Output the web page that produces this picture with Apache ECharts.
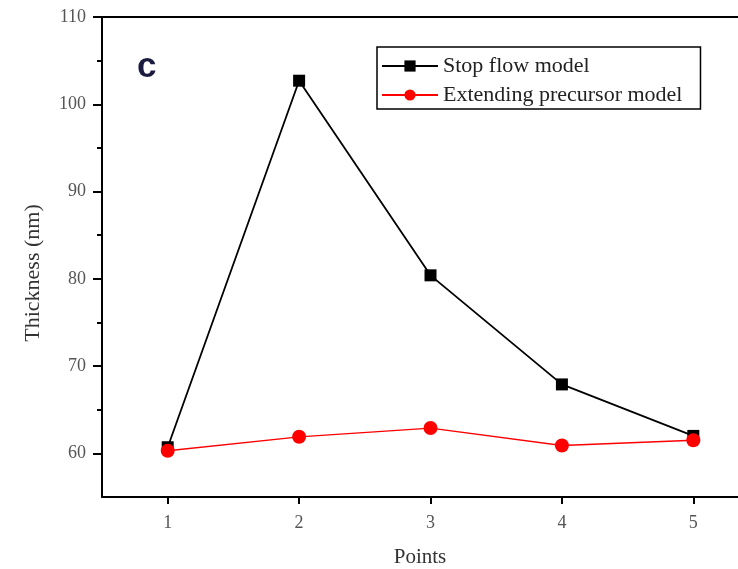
<!DOCTYPE html>
<html>
<head>
<meta charset="utf-8">
<script src="https://cdn.jsdelivr.net/npm/echarts@6/dist/echarts.min.js"></script>
<style>html,body{margin:0;padding:0;background:#fff;}#c{width:738px;height:569px;}</style>
</head>
<body>
<div id="c"></div>
<script>
var points = [1, 2, 3, 4, 5];
var stopFlow = [60.7, 102.7, 80.4, 67.9, 62.0];
var extending = [60.3, 61.9, 62.9, 60.9, 61.5];
var yTicks = [60, 70, 80, 90, 100, 110];
var seriesNames = ['Stop flow model', 'Extending precursor model'];

function pairs(xs, ys) { return xs.map(function (x, i) { return [x, ys[i]]; }); }

var chart = echarts.init(document.getElementById('c'));
var serif = 'Liberation Serif';
chart.setOption({
  animation: false,
  grid: { left: 102, top: 17, right: 0, bottom: 72, containLabel: false, outerBoundsMode: 'none' },
  graphic: [{
    type: 'text', x: 137, y: 85,
    style: { text: 'c', font: 'bold 35px Liberation Sans', fill: '#1b1b40', verticalAlign: 'bottom' }
  }, {
    type: 'text', x: 33, y: 273, rotation: Math.PI / 2,
    style: { text: 'Thickness (nm)', font: '22px Liberation Serif', fill: '#333', align: 'center', verticalAlign: 'middle' }
  }],
  legend: {
    orient: 'vertical', left: 377, top: 47,
    borderColor: '#000', borderWidth: 1.5, borderRadius: 0,
    padding: [8, 18, 3, 4], itemGap: 7, itemWidth: 56, itemHeight: 14,
    textStyle: { fontFamily: serif, fontSize: 22, color: '#222' },
    data: seriesNames
  },
  xAxis: [{
    type: 'value', min: 0.5, max: 5.34, position: 'bottom',
    name: 'Points', nameLocation: 'middle', nameGap: 50,
    nameTextStyle: { fontFamily: serif, fontSize: 21, color: '#333' },
    axisLine: { show: true, lineStyle: { color: '#000', width: 2 } },
    axisTick: { show: true, inside: false, length: 7, lineStyle: { color: '#000', width: 2 }, customValues: points },
    axisLabel: { fontFamily: serif, fontSize: 18, color: '#555', margin: 17, customValues: points },
    splitLine: { show: false }
  }, {
    type: 'value', min: 0.5, max: 5.34, position: 'top',
    axisLine: { show: true, onZero: false, lineStyle: { color: '#000', width: 2 } },
    axisTick: { show: false }, axisLabel: { show: false }, splitLine: { show: false }
  }],
  yAxis: {
    type: 'value', min: 55, max: 110,
    axisLine: { show: true, onZero: false, lineStyle: { color: '#000', width: 2 } },
    axisTick: { show: true, length: 9, lineStyle: { color: '#000', width: 2 }, customValues: yTicks },
    minorTick: { show: true, splitNumber: 2, length: 5, lineStyle: { color: '#000', width: 2 } },
    axisLabel: { fontFamily: serif, fontSize: 18, color: '#555', margin: 16, customValues: yTicks },
    splitLine: { show: false }
  },
  series: [{
    name: seriesNames[0], type: 'line', data: pairs(points, stopFlow),
    symbol: 'rect', symbolSize: 12,
    lineStyle: { color: '#000', width: 1.8 },
    itemStyle: { color: '#000' }, z: 2
  }, {
    name: seriesNames[1], type: 'line', data: pairs(points, extending),
    symbol: 'circle', symbolSize: 14,
    lineStyle: { color: '#ff0000', width: 1.3 },
    itemStyle: { color: '#ff0000' }, z: 3
  }]
});
</script>
</body>
</html>
